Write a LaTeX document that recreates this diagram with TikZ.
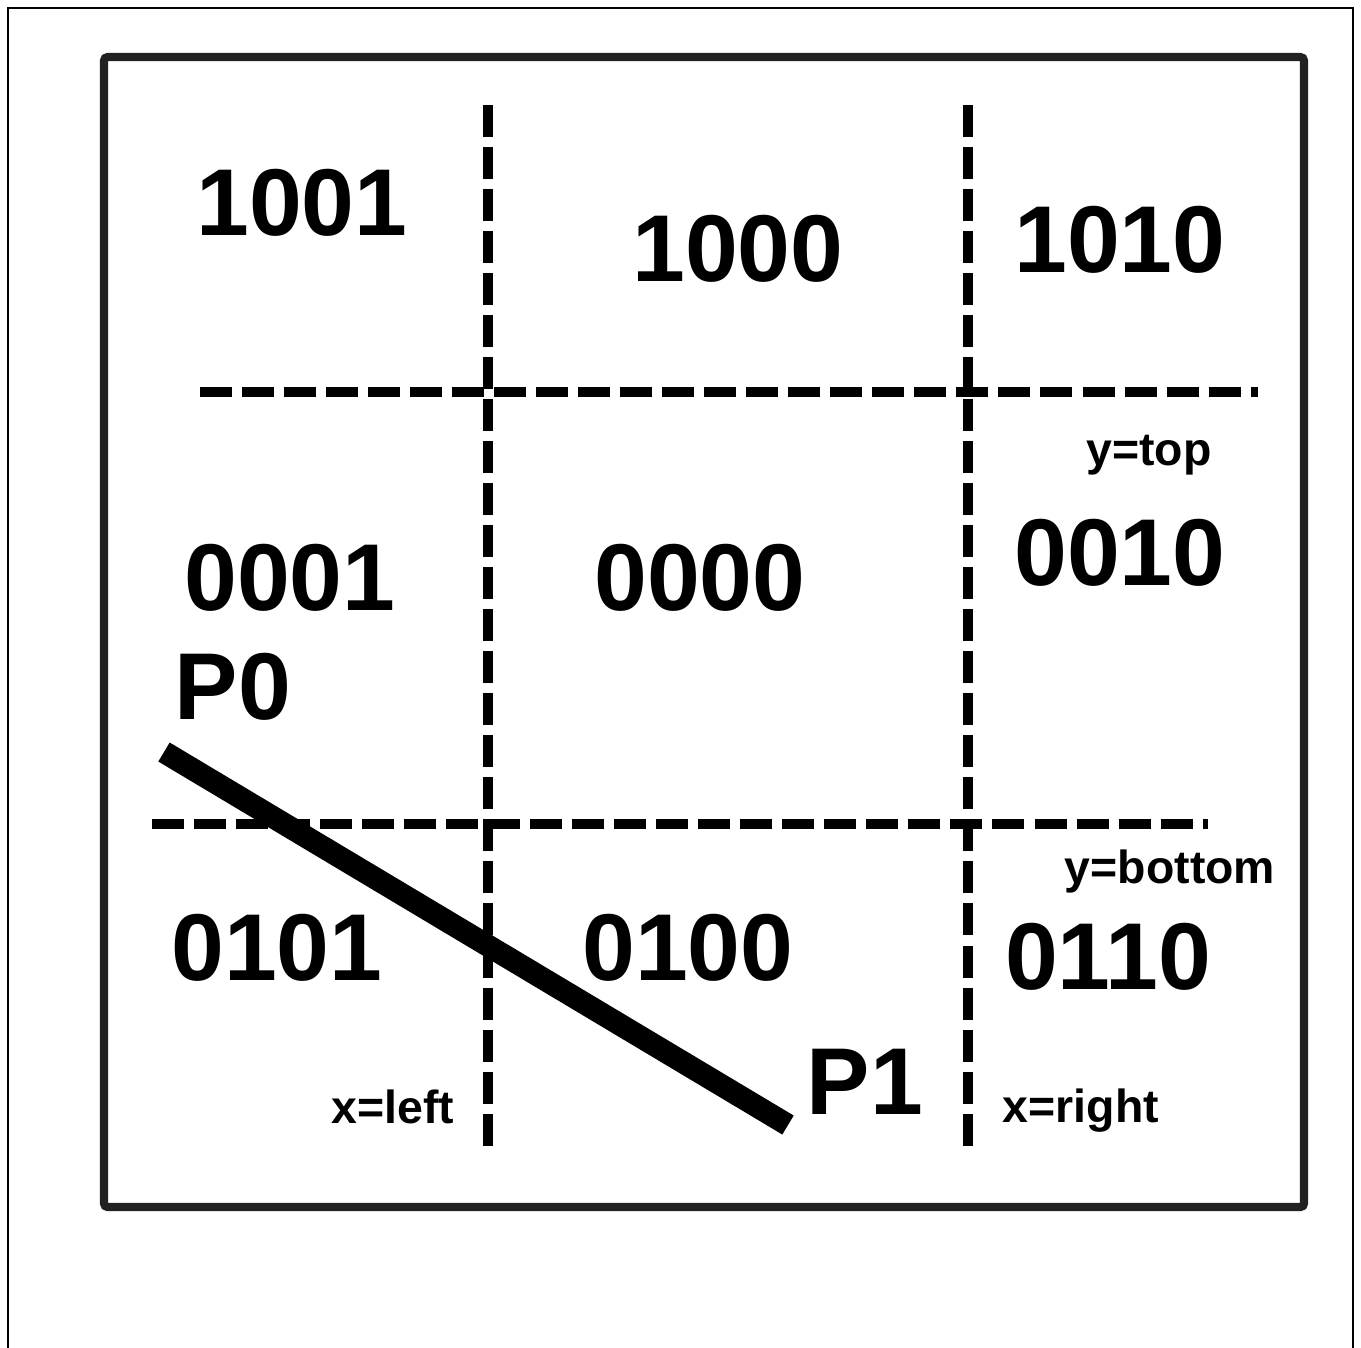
\documentclass[tikz,border=0pt]{standalone}
\usepackage{fontspec}
\setmainfont{Liberation Sans}

\begin{document}
\begin{tikzpicture}[
    x=0.01cm, y=-0.01cm,
    code/.style={font=\fontsize{27}{31}\selectfont\bfseries, inner sep=0pt}, % Region codes
    edge/.style={font=\fontsize{13.2}{16}\selectfont\bfseries, inner sep=0pt, anchor=base}, % Window edge labels
    clipline/.style={dash pattern=on 9.1pt off 2.85pt, line width=2.85pt} % Window boundaries
]
    \useasboundingbox (0,0) rectangle (1361,1347);

    % Outer frame, open at the bottom
    \draw[line width=0.45pt] (8,1360) -- (8,8) -- (1353,8) -- (1353,1360);

    % Inner box
    \draw[black!87, line width=2.3pt, rounded corners=1pt] (104,57) rectangle (1304,1207);

    % Window boundaries
    \draw[clipline] (488,105) -- (488,1148);
    \draw[clipline] (968,105) -- (968,1148);
    \draw[clipline] (200,392) -- (1258,392);
    \draw[clipline] (152,824) -- (1208,824);

    % Region codes
    \node[code] (c1001) at (302,203) {1001};
    \node[code] (c1000) at (738,249) {1000};
    \node[code] (c1010) at (1120,240) {1010};
    \node[code] (c0001) at (290,578) {0001};
    \node[code] (c0000) at (700,578) {0000};
    \node[code] (c0010) at (1120,553) {0010};
    \node[code] (c0101) at (277,948) {0101};
    \node[code] (c0100) at (688,948) {0100};
    \node[code] (c0110) at (1108,957) {0110};

    % Edge labels
    \node[edge] (ytop) at (1149,465) {y=top};
    \node[edge] (ybottom) at (1170,883) {y=bottom};
    \node[edge] (xleft) at (393,1123) {x=left};
    \node[edge] (xright) at (1081,1122) {x=right};

    % The segment P0P1
    \node[code] (p0) at (233,687) {P0};
    \node[code] (p1) at (865,1082) {P1};
    \coordinate (p0end) at (164,752);
    \coordinate (p1end) at (788,1125);
    \draw[line width=6.3pt] (p0end) -- (p1end);

\end{tikzpicture}
\end{document}
